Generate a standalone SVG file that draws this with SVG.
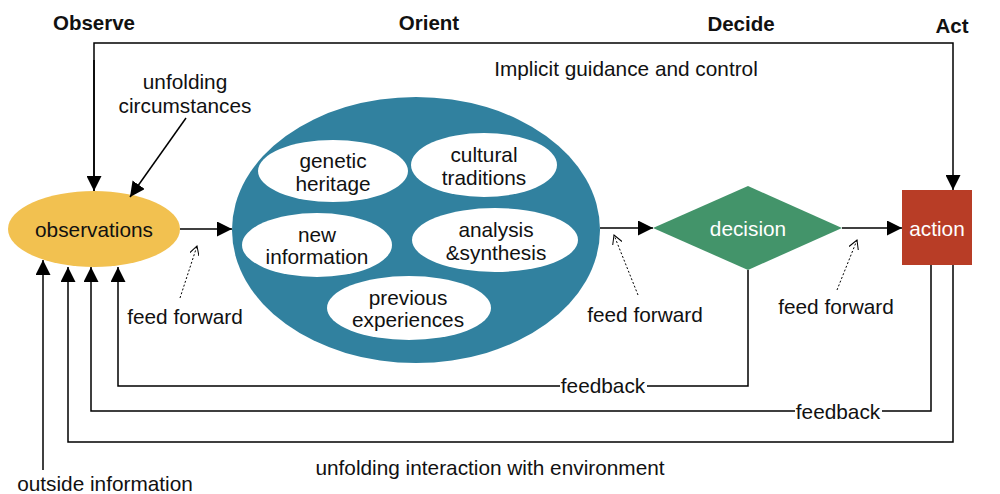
<svg xmlns="http://www.w3.org/2000/svg" width="1000" height="494" viewBox="0 0 1000 494">
<defs>
<marker id="ah" markerWidth="15" markerHeight="15" refX="15" refY="7.5" orient="auto" markerUnits="userSpaceOnUse">
<path d="M0,0 L15,7.5 L0,15 Z" fill="#000"/>
</marker>
<marker id="oh" markerWidth="10" markerHeight="10" refX="9" refY="5" orient="auto" markerUnits="userSpaceOnUse">
<path d="M0,0 L9,5 L0,10" fill="none" stroke="#000" stroke-width="1"/>
</marker>
</defs>
<style>
text{font-family:"Liberation Sans",Arial,sans-serif;font-size:20.8px;fill:#111;text-anchor:middle;dominant-baseline:central}
.h{font-weight:bold;font-size:20.5px}
.w{fill:#fff}
.ln{fill:none;stroke:#000;stroke-width:1.5}
.dot{fill:none;stroke:#000;stroke-width:1;stroke-dasharray:2,2}
.wi{fill:#fff}
</style>
<rect width="1000" height="494" fill="#fff"/>
<g id="headers">
<text class="h" x="94" y="22">Observe</text>
<text class="h" x="429" y="22">Orient</text>
<text class="h" x="741" y="23">Decide</text>
<text class="h" x="952" y="25">Act</text>
</g>
<g id="observations">
<ellipse cx="94" cy="229" rx="86" ry="38" fill="#F2C150"/>
<text x="94" y="229">observations</text>
</g>
<g id="orient">
<ellipse cx="416" cy="230" rx="184" ry="133" fill="#31819F"/>
<g id="genetic"><ellipse class="wi" cx="333" cy="171" rx="75" ry="31"/><text x="333" y="160">genetic</text><text x="333" y="183">heritage</text></g>
<g id="cultural"><ellipse class="wi" cx="484" cy="165" rx="73" ry="32"/><text x="484" y="154">cultural</text><text x="484" y="177">traditions</text></g>
<g id="newinfo"><ellipse class="wi" cx="317" cy="245" rx="75" ry="32"/><text x="317" y="234">new</text><text x="317" y="256">information</text></g>
<g id="analysis"><ellipse class="wi" cx="495" cy="240" rx="83" ry="32"/><text x="496" y="229">analysis</text><text x="496" y="252">&amp;synthesis</text></g>
<g id="previous"><ellipse class="wi" cx="409" cy="308" rx="82" ry="32"/><text x="408" y="297">previous</text><text x="408" y="319">experiences</text></g>
</g>
<g id="decision">
<polygon points="653,228 748,186 842,228 748,270" fill="#43946A"/>
<text class="w" x="748" y="228">decision</text>
</g>
<g id="action">
<rect x="902" y="190" width="70" height="75" fill="#B83D26"/>
<text class="w" x="937" y="228">action</text>
</g>
<g id="connectors">
<line class="ln" x1="180" y1="229" x2="232" y2="229" marker-end="url(#ah)"/>
<line class="ln" x1="600" y1="228" x2="653" y2="228" marker-end="url(#ah)"/>
<line class="ln" x1="842" y1="228" x2="902" y2="228" marker-end="url(#ah)"/>
<polyline class="ln" points="94,191 94,43 953,43 953,190" marker-end="url(#ah)"/>
<line class="ln" x1="94" y1="60" x2="94" y2="191" marker-end="url(#ah)"/>
<line class="ln" x1="186" y1="118" x2="130" y2="197" marker-end="url(#ah)"/>
<line class="dot" x1="180" y1="298" x2="197" y2="246" marker-end="url(#oh)"/>
<line class="dot" x1="638" y1="295" x2="614" y2="235" marker-end="url(#oh)"/>
<line class="dot" x1="837" y1="290" x2="857" y2="240" marker-end="url(#oh)"/>
<polyline class="ln" points="748,270 748,386 118,386 118,267" marker-end="url(#ah)"/>
<polyline class="ln" points="931,265 931,411 91,411 91,267" marker-end="url(#ah)"/>
<polyline class="ln" points="953,265 953,442 68,442 68,267" marker-end="url(#ah)"/>
<line class="ln" x1="43" y1="470" x2="43" y2="260" marker-end="url(#ah)"/>
</g>
<g id="labels">
<rect x="560" y="374" width="87" height="22" fill="#fff"/>
<text x="603" y="385">feedback</text>
<rect x="795" y="400" width="87" height="22" fill="#fff"/>
<text x="838" y="411">feedback</text>
<text x="626" y="68">Implicit guidance and control</text>
<text x="185" y="81">unfolding</text>
<text x="185" y="105">circumstances</text>
<text x="185" y="316">feed forward</text>
<text x="645" y="314">feed forward</text>
<text x="836" y="306">feed forward</text>
<text x="105" y="483">outside information</text>
<text x="490" y="467">unfolding interaction with environment</text>
</g>
</svg>
